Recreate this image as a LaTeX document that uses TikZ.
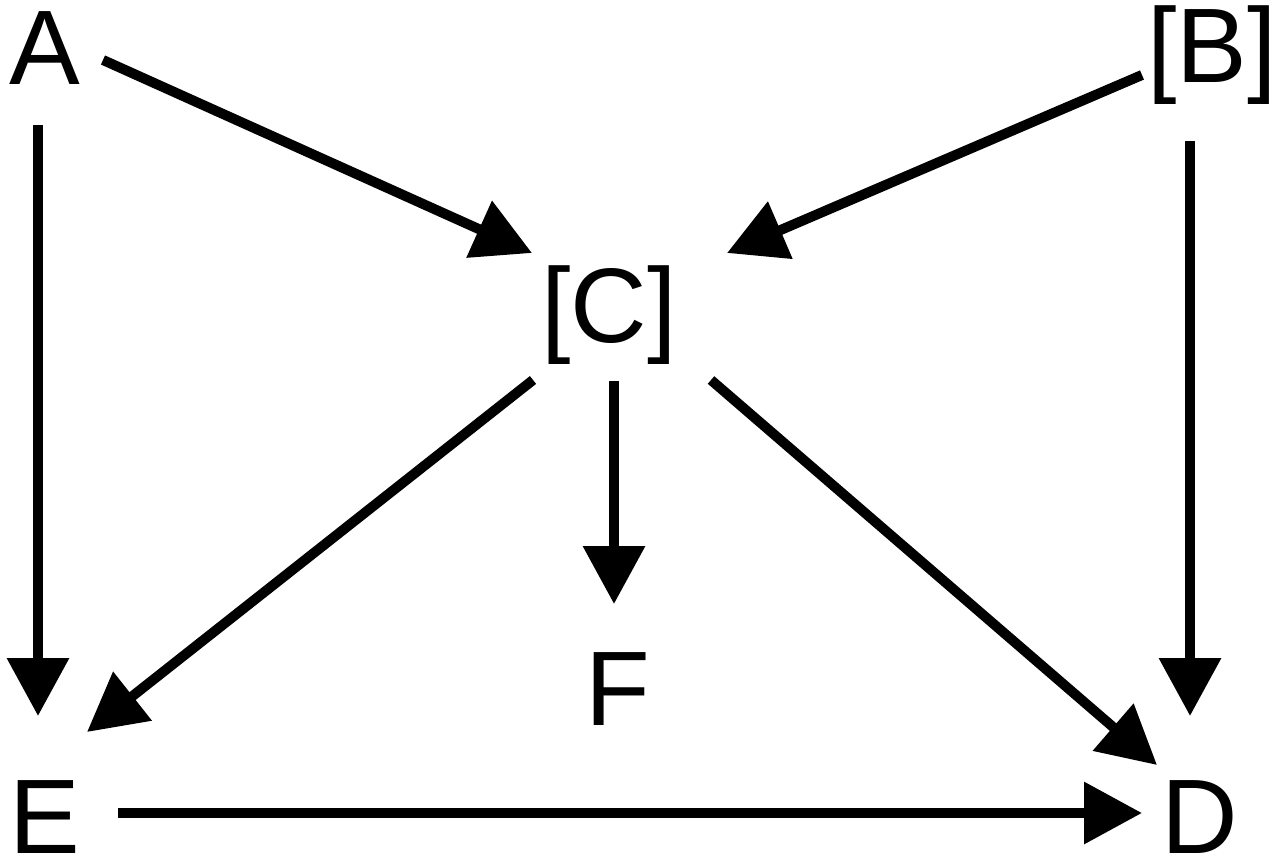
\documentclass[tikz,border=0pt]{standalone}
\usepackage{fontspec}
\setmainfont{Liberation Sans}
\usetikzlibrary{arrows.meta,calc}
\begin{document}
\begin{tikzpicture}[x=0.5pt,y=-0.5pt,
  lbl/.style={anchor=base,inner sep=0pt,font=\fontsize{53}{60}\selectfont},
  edge/.style={line width=5pt,-{Triangle[length=29pt,width=30pt]}}]
\useasboundingbox (0,0) rectangle (1272,856);
\node[lbl] (A) at (44.5,84) {A};
\node[lbl] (B) at (1212,83) {[B]};
\node[lbl] (C) at (609,342) {[C]};
\node[lbl] (F) at (618,725) {F};
\node[lbl] (E) at (45,853) {E};
\node[lbl] (D) at (1200,853) {D};
\draw[edge] ($(A.base)+(58.5,-24)$) -- ($(C.base)+(-77,-89)$);
\draw[edge] ($(B.base)+(-70,-8)$) -- ($(C.base)+(118,-89)$);
\draw[edge] ($(A.base)+(-6.5,41)$) -- ($(E.base)+(-7,-137)$);
\draw[edge] ($(B.base)+(-22,58)$) -- ($(D.base)+(-10,-137)$);
\draw[edge] ($(C.base)+(-76,38)$) -- ($(E.base)+(42,-121)$);
\draw[edge] ($(C.base)+(5,39)$) -- ($(F.base)+(-4,-121)$);
\draw[edge] ($(C.base)+(102,38)$) -- ($(D.base)+(-43,-88)$);
\draw[edge] ($(E.base)+(73,-40)$) -- ($(D.base)+(-58,-40)$);
\end{tikzpicture}
\end{document}
